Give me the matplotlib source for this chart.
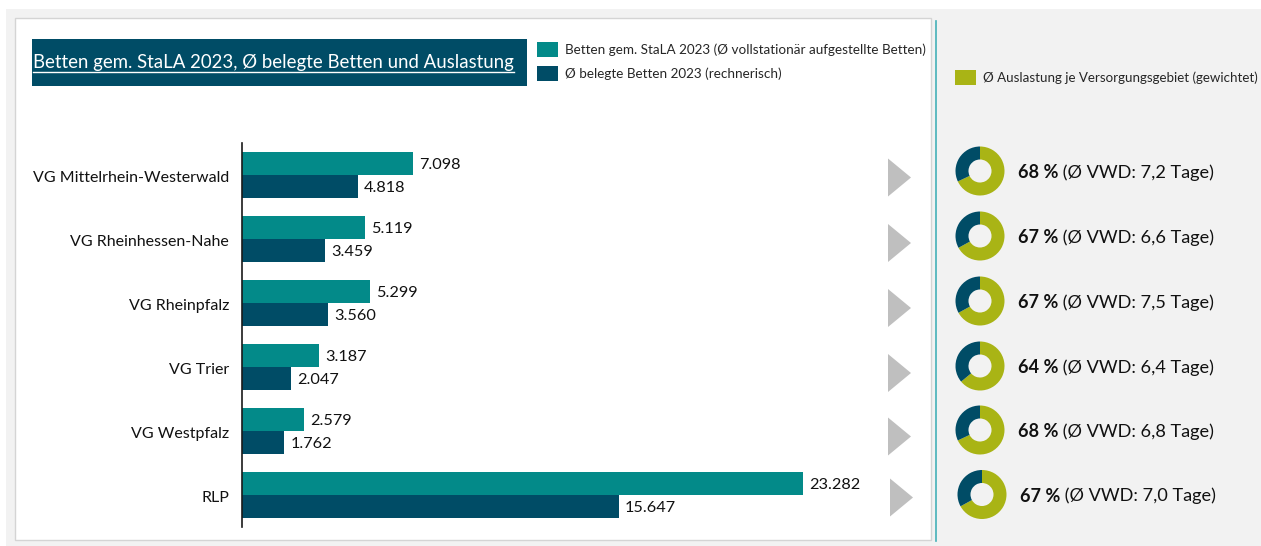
import matplotlib
matplotlib.use("Agg")
import matplotlib.pyplot as plt
from matplotlib.patches import Rectangle, Polygon

# ---- data -------------------------------------------------------------
regions = ["VG Mittelrhein-Westerwald", "VG Rheinhessen-Nahe", "VG Rheinpfalz",
           "VG Trier", "VG Westpfalz", "RLP"]
betten_stala = [7098, 5119, 5299, 3187, 2579, 23282]
belegte_betten = [4818, 3459, 3560, 2047, 1762, 15647]
auslastung_pct = [68, 67, 67, 64, 68, 67]
vwd_tage = [7.2, 6.6, 7.5, 6.4, 6.8, 7.0]

title = "Betten gem. StaLA 2023, Ø belegte Betten und Auslastung"
legend_labels = ["Betten gem. StaLA 2023 (Ø vollstationär aufgestellte Betten)",
                 "Ø belegte Betten 2023 (rechnerisch)"]
legend_right = "Ø Auslastung je Versorgungsgebiet (gewichtet)"

# ---- style ------------------------------------------------------------
TEAL = "#038A89"
DARK = "#004C66"
GREEN = "#A9B415"
GREY_TRI = "#BFBFBF"
FRAME = "#F2F2F2"
FONT = "Lato"
plt.rcParams["font.family"] = [FONT, "DejaVu Sans"]

W, H = 1261, 546
fig = plt.figure(figsize=(W / 100, H / 100), dpi=100, facecolor="white")

# full-figure pixel canvas for panels, legend and markers
deco = fig.add_axes([0, 0, 1, 1], zorder=0)
deco.set_xlim(0, W)
deco.set_ylim(H, 0)
deco.axis("off")

deco.add_patch(Rectangle((6, 9), W - 6, H - 9, facecolor=FRAME, edgecolor="none"))
deco.add_patch(Rectangle((15, 18), 916, 522, facecolor="white",
                         edgecolor="#D4D4D4", linewidth=1))
deco.plot([936, 936], [21, 541], color="#45B0B8", linewidth=1.2)

# title box
deco.add_patch(Rectangle((31.5, 39), 495, 46.5, facecolor=DARK, edgecolor="none"))
t_title = deco.text(33, 68, title, color="white", fontsize=13.45,
                    va="baseline", ha="left")

# legends
deco.add_patch(Rectangle((537, 42), 21, 15, facecolor=TEAL, edgecolor="none"))
deco.add_patch(Rectangle((537, 66), 21, 15, facecolor=DARK, edgecolor="none"))
deco.text(565, 50, legend_labels[0], fontsize=9.75, color="#262626", va="center")
deco.text(565, 74, legend_labels[1], fontsize=9.75, color="#262626", va="center")
deco.add_patch(Rectangle((955, 70), 21, 15, facecolor=GREEN, edgecolor="none"))
t_right = deco.text(983, 78, legend_right, fontsize=10.0, color="#262626",
                    va="center")

# ---- bar chart --------------------------------------------------------
px_per_unit = 561 / 23282
ax_left, ax_right, ax_top, ax_bot = 242, 844, 143, 527
ax = fig.add_axes([ax_left / W, (H - ax_bot) / H,
                   (ax_right - ax_left) / W, (ax_bot - ax_top) / H], zorder=2)
ax.patch.set_alpha(0)
ax.set_xlim(0, (ax_right - ax_left) / px_per_unit)
n = len(regions)
ax.set_ylim(n - 0.5, -0.5)
ypos = list(range(n))
bh = 0.352
ax.barh([y - bh / 2 for y in ypos], betten_stala, height=bh, color=TEAL)
ax.barh([y + bh / 2 for y in ypos], belegte_betten, height=bh, color=DARK)


def de_int(v):
    return f"{v:,}".replace(",", ".")


off = 6 / px_per_unit
for y, a, b in zip(ypos, betten_stala, belegte_betten):
    ax.text(a + off, y - bh / 2 + 0.02, de_int(a), va="center", ha="left",
            fontsize=11.7, color="#111111")
    ax.text(b + off, y + bh / 2 + 0.02, de_int(b), va="center", ha="left",
            fontsize=11.7, color="#111111")

ax.set_yticks([y + 0.02 for y in ypos])
ax.set_yticklabels(regions, fontsize=11.5, color="#111111")
ax.tick_params(axis="y", length=0, pad=9.4)
ax.set_xticks([])
for s in ("top", "right", "bottom"):
    ax.spines[s].set_visible(False)
ax.spines["left"].set_color("#1A1A1A")
ax.spines["left"].set_linewidth(1.2)

# ---- arrows and donuts ------------------------------------------------
tri_y = [177.5, 243, 308, 373, 436.5, 497.5]
tri_x = [888, 888, 888, 888, 888, 890]
for x0, yc in zip(tri_x, tri_y):
    deco.add_patch(Polygon([(x0, yc - 19), (x0 + 23, yc), (x0, yc + 19)],
                           closed=True, facecolor=GREY_TRI, edgecolor="none"))

donut_y = [171, 236, 301, 366, 430, 494.5]
donut_x = [980, 980, 980, 980, 980, 982]
text_x = [1018, 1018, 1018, 1018, 1018, 1020]
R = 24.5
for cx, cy, tx, pct, vwd in zip(donut_x, donut_y, text_x, auslastung_pct, vwd_tage):
    dax = fig.add_axes([(cx - R) / W, (H - cy - R) / H, 2 * R / W, 2 * R / H],
                       zorder=3)
    dax.pie([pct, 100 - pct], colors=[GREEN, DARK], startangle=90,
            counterclock=False, radius=1,
            wedgeprops=dict(width=0.53, edgecolor="none"))
    dax.set_xlim(-1, 1)
    dax.set_ylim(-1, 1)
    dax.set_aspect("equal")
    t1 = deco.text(tx, cy + 1.5, f"{pct} %", fontsize=13.1, fontweight="bold",
                   color="#111111", va="center", ha="left")
    deco.annotate(f" (Ø VWD: {vwd:.1f}".replace(".", ",") + " Tage)",
                  xy=(1, 0.5), xycoords=t1, va="center", ha="left",
                  fontsize=13.1, color="#111111")

# underline for the title; keep the right-hand legend inside the figure
fig.canvas.draw()
inv = deco.transData.inverted()
bb = t_title.get_window_extent()
(x0, _), (x1, _) = inv.transform([(bb.x0, bb.y0), (bb.x1, bb.y0)])
deco.plot([x0, x1], [71.5, 71.5], color="white", linewidth=1)

rb = t_right.get_window_extent()
avail = (W - 2) - 983
t_right.set_fontsize(t_right.get_fontsize() * avail / rb.width)

fig.savefig("out.png", dpi=100, facecolor=fig.get_facecolor())
